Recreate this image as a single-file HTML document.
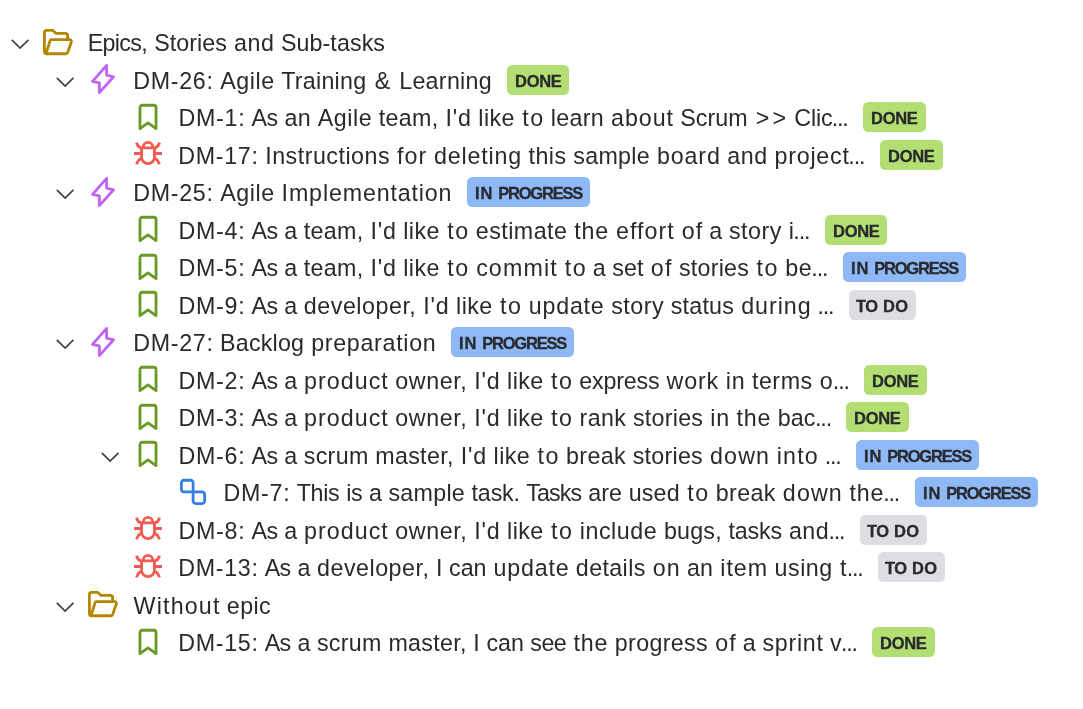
<!DOCTYPE html>
<html lang="en">
<head>
<meta charset="utf-8">
<title>Epics, Stories and Sub-tasks</title>
<style>
html,body{margin:0;padding:0;background:#fff;}
body{width:1083px;height:709px;position:relative;overflow:hidden;font-family:"Liberation Sans",sans-serif;color:#292a2e;}
#g{position:absolute;left:0;top:0;width:1083px;height:709px;}
.i{fill:none;stroke-width:2.8;stroke-linejoin:round;stroke-linecap:round;}
.c{fill:none;stroke:#42444b;stroke-width:1.8;stroke-linejoin:miter;stroke-linecap:butt;}
.folder{stroke:#b38600;}
.epic{stroke:#bf63f3;}
.story{stroke:#6a9a23;}
.bug{stroke:#f15b50;stroke-linecap:butt;}
.task{stroke:#357de8;}
.done{fill:#b3df72;}
.prog{fill:#8fb8f6;}
.todo{fill:#dddee1;}
.t{position:absolute;will-change:transform;height:38px;line-height:38px;font-size:23.25px;white-space:pre;}
.e{letter-spacing:-1.13px;}
.b{position:absolute;will-change:transform;height:30px;line-height:30px;font-size:16.5px;font-weight:700;white-space:pre;-webkit-text-stroke:0.3px #292a2e;}
</style>
</head>
<body>
<svg id="g" width="1083" height="709" viewBox="0 0 1083 709">
<path class="c" transform="translate(20.12 42)" d="M-8.3 -2.1L0 6.1L8.3 -2.1"/>
<g class="i folder" transform="translate(58 42)"><path d="M9.6 -2.45V-6.45a2.2 2.2 0 0 0 -2.2 -2.2H-2L-5.4 -11.72H-11.38a2.2 2.2 0 0 0 -2.2 2.2V9.53a2.2 2.2 0 0 0 2.2 2.2H8.1a1.6 1.6 0 0 0 1.5 -1.1L13.4 -0.2a1.8 1.8 0 0 0 -1.7 -2.25H-6.5a1.5 1.5 0 0 0 -1.45 1.1L-11.7 10.9"/></g>
<path class="c" transform="translate(65.12 80)" d="M-8.3 -2.1L0 6.1L8.3 -2.1"/>
<g class="i epic" transform="translate(103 79)"><path d="M3.6 -13.6L-10.5 2.4L-3.65 3.8V13.6L10.6 -2.2L3.6 -3.8Z"/></g>
<rect class="done" x="507" y="65" width="62" height="30" rx="5.5"/>
<g class="i story" transform="translate(148 117)"><path d="M-8.03 11.7V-9.55a2.2 2.2 0 0 1 2.2 -2.2H5.83a2.2 2.2 0 0 1 2.2 2.2V11.7L0 5.9Z"/></g>
<rect class="done" x="863" y="102" width="63" height="30" rx="5.5"/>
<g class="i bug" transform="translate(148 154)"><g transform="translate(0 0.5)"><path d="M-6.4 -6.7H6.4V2.8a6.4 6.4 0 0 1 -12.8 0Z"/><path d="M-4.7 -6.7v-0.8a4.7 4.7 0 0 1 9.4 0v0.8"/><path d="M-14 -1H-6.4M6.4 -1H14"/><path d="M-11.5 -11.9c0.6 2.6 2 4.6 4.7 5.5M11.5 -11.9c-0.6 2.6 -2 4.6 -4.7 5.5"/><path d="M-11.5 9.9c0.8 -2.6 2 -4.7 4.4 -6.2M11.5 9.9c-0.8 -2.6 -2 -4.7 -4.4 -6.2"/></g></g>
<rect class="done" x="880" y="140" width="63" height="30" rx="5.5"/>
<path class="c" transform="translate(65.12 192)" d="M-8.3 -2.1L0 6.1L8.3 -2.1"/>
<g class="i epic" transform="translate(103 192)"><path d="M3.6 -13.6L-10.5 2.4L-3.65 3.8V13.6L10.6 -2.2L3.6 -3.8Z"/></g>
<rect class="prog" x="467" y="177" width="123" height="30" rx="5.5"/>
<g class="i story" transform="translate(148 229)"><path d="M-8.03 11.7V-9.55a2.2 2.2 0 0 1 2.2 -2.2H5.83a2.2 2.2 0 0 1 2.2 2.2V11.7L0 5.9Z"/></g>
<rect class="done" x="825" y="215" width="62" height="30" rx="5.5"/>
<g class="i story" transform="translate(148 267)"><path d="M-8.03 11.7V-9.55a2.2 2.2 0 0 1 2.2 -2.2H5.83a2.2 2.2 0 0 1 2.2 2.2V11.7L0 5.9Z"/></g>
<rect class="prog" x="843" y="252" width="123" height="30" rx="5.5"/>
<g class="i story" transform="translate(148 304)"><path d="M-8.03 11.7V-9.55a2.2 2.2 0 0 1 2.2 -2.2H5.83a2.2 2.2 0 0 1 2.2 2.2V11.7L0 5.9Z"/></g>
<rect class="todo" x="849" y="290" width="67" height="30" rx="5.5"/>
<path class="c" transform="translate(65.12 342)" d="M-8.3 -2.1L0 6.1L8.3 -2.1"/>
<g class="i epic" transform="translate(103 342)"><path d="M3.6 -13.6L-10.5 2.4L-3.65 3.8V13.6L10.6 -2.2L3.6 -3.8Z"/></g>
<rect class="prog" x="451" y="327" width="123" height="30" rx="5.5"/>
<g class="i story" transform="translate(148 379)"><path d="M-8.03 11.7V-9.55a2.2 2.2 0 0 1 2.2 -2.2H5.83a2.2 2.2 0 0 1 2.2 2.2V11.7L0 5.9Z"/></g>
<rect class="done" x="864" y="365" width="63" height="30" rx="5.5"/>
<g class="i story" transform="translate(148 417)"><path d="M-8.03 11.7V-9.55a2.2 2.2 0 0 1 2.2 -2.2H5.83a2.2 2.2 0 0 1 2.2 2.2V11.7L0 5.9Z"/></g>
<rect class="done" x="846" y="402" width="63" height="30" rx="5.5"/>
<path class="c" transform="translate(110.12 455)" d="M-8.3 -2.1L0 6.1L8.3 -2.1"/>
<g class="i story" transform="translate(148 454)"><path d="M-8.03 11.7V-9.55a2.2 2.2 0 0 1 2.2 -2.2H5.83a2.2 2.2 0 0 1 2.2 2.2V11.7L0 5.9Z"/></g>
<rect class="prog" x="856" y="440" width="123" height="30" rx="5.5"/>
<g class="i task" transform="translate(193 492)"><path d="M0.1 -0.1H-9.1a2.5 2.5 0 0 1 -2.5 -2.5V-9.25a2.5 2.5 0 0 1 2.5 -2.5H-2.4a2.5 2.5 0 0 1 2.5 2.5V9.05a2.5 2.5 0 0 0 2.5 2.5H9.15a2.5 2.5 0 0 0 2.5 -2.5V2.4a2.5 2.5 0 0 0 -2.5 -2.5Z"/></g>
<rect class="prog" x="915" y="477" width="123" height="30" rx="5.5"/>
<g class="i bug" transform="translate(148 529)"><g transform="translate(0 0.5)"><path d="M-6.4 -6.7H6.4V2.8a6.4 6.4 0 0 1 -12.8 0Z"/><path d="M-4.7 -6.7v-0.8a4.7 4.7 0 0 1 9.4 0v0.8"/><path d="M-14 -1H-6.4M6.4 -1H14"/><path d="M-11.5 -11.9c0.6 2.6 2 4.6 4.7 5.5M11.5 -11.9c-0.6 2.6 -2 4.6 -4.7 5.5"/><path d="M-11.5 9.9c0.8 -2.6 2 -4.7 4.4 -6.2M11.5 9.9c-0.8 -2.6 -2 -4.7 -4.4 -6.2"/></g></g>
<rect class="todo" x="860" y="515" width="67" height="30" rx="5.5"/>
<g class="i bug" transform="translate(148 567)"><g transform="translate(0 0.5)"><path d="M-6.4 -6.7H6.4V2.8a6.4 6.4 0 0 1 -12.8 0Z"/><path d="M-4.7 -6.7v-0.8a4.7 4.7 0 0 1 9.4 0v0.8"/><path d="M-14 -1H-6.4M6.4 -1H14"/><path d="M-11.5 -11.9c0.6 2.6 2 4.6 4.7 5.5M11.5 -11.9c-0.6 2.6 -2 4.6 -4.7 5.5"/><path d="M-11.5 9.9c0.8 -2.6 2 -4.7 4.4 -6.2M11.5 9.9c-0.8 -2.6 -2 -4.7 -4.4 -6.2"/></g></g>
<rect class="todo" x="878" y="552" width="67" height="30" rx="5.5"/>
<path class="c" transform="translate(65.12 605)" d="M-8.3 -2.1L0 6.1L8.3 -2.1"/>
<g class="i folder" transform="translate(103 604)"><path d="M9.6 -2.45V-6.45a2.2 2.2 0 0 0 -2.2 -2.2H-2L-5.4 -11.72H-11.38a2.2 2.2 0 0 0 -2.2 2.2V9.53a2.2 2.2 0 0 0 2.2 2.2H8.1a1.6 1.6 0 0 0 1.5 -1.1L13.4 -0.2a1.8 1.8 0 0 0 -1.7 -2.25H-6.5a1.5 1.5 0 0 0 -1.45 1.1L-11.7 10.9"/></g>
<g class="i story" transform="translate(148 642)"><path d="M-8.03 11.7V-9.55a2.2 2.2 0 0 1 2.2 -2.2H5.83a2.2 2.2 0 0 1 2.2 2.2V11.7L0 5.9Z"/></g>
<rect class="done" x="872" y="627" width="63" height="30" rx="5.5"/>
</svg>
<div class="t" style="left:87.75px;top:24px"><span style="letter-spacing:-0.652px;word-spacing:0.872px;margin:0 0.326px 0 -0.326px">Epics, </span><span style="letter-spacing:0.075px;word-spacing:0.144px;margin:0 -0.0375px 0 0.0375px">Stories </span><span style="letter-spacing:0.568px;word-spacing:-0.364px;margin:0 -0.284px 0 0.284px">and </span><span style="letter-spacing:0.091px;word-spacing:0px;margin:0 -0.0455px 0 0.0455px">Sub-tasks</span></div>
<div class="t" style="left:132.95px;top:62px"><span style="letter-spacing:0.67px;word-spacing:-0.45px;margin:0 -0.335px 0 0.335px">DM-26: </span><span style="letter-spacing:0.576px;word-spacing:-0.372px;margin:0 -0.288px 0 0.288px">Agile </span><span style="letter-spacing:0.238px;word-spacing:-0.034px;margin:0 -0.119px 0 0.119px">Training </span><span style="letter-spacing:3.968px;word-spacing:-3.748px;margin:0 -1.98px 0 1.98px">&amp; </span><span style="letter-spacing:0.295px;word-spacing:0px;margin:0 -0.147px 0 0.147px">Learning</span></div>
<div class="b" style="left:515.10px;top:66px"><span style="letter-spacing:-0.274px">DONE</span></div>
<div class="t" style="left:177.95px;top:99px"><span style="letter-spacing:0.765px;word-spacing:-0.545px;margin:0 -0.383px 0 0.383px">DM-1: </span><span style="letter-spacing:-0.546px;word-spacing:0.766px;margin:0 0.273px 0 -0.273px">As </span><span style="letter-spacing:0.152px;word-spacing:0.067px;margin:0 -0.076px 0 0.076px">an </span><span style="letter-spacing:0.576px;word-spacing:-0.372px;margin:0 -0.288px 0 0.288px">Agile </span><span style="letter-spacing:0.301px;word-spacing:-0.082px;margin:0 -0.15px 0 0.15px">team, </span><span style="letter-spacing:0.858px;word-spacing:-0.638px;margin:0 -0.429px 0 0.429px">I'd </span><span style="letter-spacing:0.442px;word-spacing:-0.238px;margin:0 -0.221px 0 0.221px">like </span><span style="letter-spacing:1.569px;word-spacing:-1.365px;margin:0 -0.784px 0 0.784px">to </span><span style="letter-spacing:0.317px;word-spacing:-0.113px;margin:0 -0.159px 0 0.159px">learn </span><span style="letter-spacing:0.968px;word-spacing:-0.764px;margin:0 -0.484px 0 0.484px">about </span><span style="letter-spacing:0.044px;word-spacing:0.176px;margin:0 -0.022px 0 0.022px">Scrum </span><span style="letter-spacing:3.086px;word-spacing:-2.882px;margin:0 -1.54px 0 1.54px">&gt;&gt; </span><span style="letter-spacing:-0.154px;word-spacing:0px;margin:0 0.077px 0 -0.077px">Clic</span><span class="e" style="margin-left:-0.81px">...</span></div>
<div class="b" style="left:871.10px;top:103px"><span style="letter-spacing:-0.274px">DONE</span></div>
<div class="t" style="left:177.95px;top:137px"><span style="letter-spacing:0.67px;word-spacing:-0.45px;margin:0 -0.335px 0 0.335px">DM-17: </span><span style="letter-spacing:0.501px;word-spacing:-0.281px;margin:0 -0.251px 0 0.251px">Instructions </span><span style="letter-spacing:1.071px;word-spacing:-0.852px;margin:0 -0.535px 0 0.535px">for </span><span style="letter-spacing:0.816px;word-spacing:-0.597px;margin:0 -0.408px 0 0.408px">deleting </span><span style="letter-spacing:0.522px;word-spacing:-0.303px;margin:0 -0.261px 0 0.261px">this </span><span style="letter-spacing:0.288px;word-spacing:-0.084px;margin:0 -0.144px 0 0.144px">sample </span><span style="letter-spacing:0.86px;word-spacing:-0.655px;margin:0 -0.43px 0 0.43px">board </span><span style="letter-spacing:0.568px;word-spacing:-0.364px;margin:0 -0.284px 0 0.284px">and </span><span style="letter-spacing:0.773px;word-spacing:0px;margin:0 -0.387px 0 0.387px">project</span><span class="e" style="margin-left:-0.97px">...</span></div>
<div class="b" style="left:888.10px;top:141px"><span style="letter-spacing:-0.274px">DONE</span></div>
<div class="t" style="left:132.95px;top:174px"><span style="letter-spacing:0.67px;word-spacing:-0.45px;margin:0 -0.335px 0 0.335px">DM-25: </span><span style="letter-spacing:0.576px;word-spacing:-0.372px;margin:0 -0.288px 0 0.288px">Agile </span><span style="letter-spacing:0.846px;word-spacing:0px;margin:0 -0.423px 0 0.423px">Implementation</span></div>
<div class="b" style="left:474.55px;top:178px"><span style="letter-spacing:1.000px;word-spacing:-0.942px">IN </span><span style="letter-spacing:-1.196px">PROGRESS</span></div>
<div class="t" style="left:177.95px;top:212px"><span style="letter-spacing:0.765px;word-spacing:-0.545px;margin:0 -0.383px 0 0.383px">DM-4: </span><span style="letter-spacing:-0.546px;word-spacing:0.766px;margin:0 0.273px 0 -0.273px">As </span><span style="letter-spacing:-0.543px;word-spacing:0.763px;margin:0 0.272px 0 -0.272px">a </span><span style="letter-spacing:0.301px;word-spacing:-0.082px;margin:0 -0.15px 0 0.15px">team, </span><span style="letter-spacing:0.858px;word-spacing:-0.638px;margin:0 -0.429px 0 0.429px">I'd </span><span style="letter-spacing:0.442px;word-spacing:-0.238px;margin:0 -0.221px 0 0.221px">like </span><span style="letter-spacing:1.569px;word-spacing:-1.365px;margin:0 -0.784px 0 0.784px">to </span><span style="letter-spacing:0.469px;word-spacing:-0.264px;margin:0 -0.234px 0 0.234px">estimate </span><span style="letter-spacing:0.821px;word-spacing:-0.601px;margin:0 -0.41px 0 0.41px">the </span><span style="letter-spacing:1.07px;word-spacing:-0.866px;margin:0 -0.535px 0 0.535px">effort </span><span style="letter-spacing:1.254px;word-spacing:-1.05px;margin:0 -0.627px 0 0.627px">of </span><span style="letter-spacing:-0.543px;word-spacing:0.763px;margin:0 0.272px 0 -0.272px">a </span><span style="letter-spacing:0.537px;word-spacing:-0.317px;margin:0 -0.269px 0 0.269px">story </span><span style="letter-spacing:0.728px;word-spacing:0px;margin:0 -0.364px 0 0.364px">i</span><span class="e" style="margin-left:-0.99px">...</span></div>
<div class="b" style="left:833.10px;top:216px"><span style="letter-spacing:-0.274px">DONE</span></div>
<div class="t" style="left:177.95px;top:249px"><span style="letter-spacing:0.765px;word-spacing:-0.545px;margin:0 -0.383px 0 0.383px">DM-5: </span><span style="letter-spacing:-0.546px;word-spacing:0.766px;margin:0 0.273px 0 -0.273px">As </span><span style="letter-spacing:-0.543px;word-spacing:0.763px;margin:0 0.272px 0 -0.272px">a </span><span style="letter-spacing:0.301px;word-spacing:-0.082px;margin:0 -0.15px 0 0.15px">team, </span><span style="letter-spacing:0.858px;word-spacing:-0.638px;margin:0 -0.429px 0 0.429px">I'd </span><span style="letter-spacing:0.442px;word-spacing:-0.238px;margin:0 -0.221px 0 0.221px">like </span><span style="letter-spacing:1.569px;word-spacing:-1.365px;margin:0 -0.784px 0 0.784px">to </span><span style="letter-spacing:1.12px;word-spacing:-0.901px;margin:0 -0.56px 0 0.56px">commit </span><span style="letter-spacing:1.569px;word-spacing:-1.365px;margin:0 -0.784px 0 0.784px">to </span><span style="letter-spacing:-0.543px;word-spacing:0.763px;margin:0 0.272px 0 -0.272px">a </span><span style="letter-spacing:0.109px;word-spacing:0.095px;margin:0 -0.0545px 0 0.0545px">set </span><span style="letter-spacing:1.254px;word-spacing:-1.05px;margin:0 -0.627px 0 0.627px">of </span><span style="letter-spacing:0.261px;word-spacing:-0.057px;margin:0 -0.131px 0 0.131px">stories </span><span style="letter-spacing:1.569px;word-spacing:-1.365px;margin:0 -0.784px 0 0.784px">to </span><span style="letter-spacing:0.598px;word-spacing:0px;margin:0 -0.299px 0 0.299px">be</span><span class="e" style="margin-left:-0.72px">...</span></div>
<div class="b" style="left:850.55px;top:253px"><span style="letter-spacing:1.000px;word-spacing:-0.942px">IN </span><span style="letter-spacing:-1.196px">PROGRESS</span></div>
<div class="t" style="left:177.95px;top:287px"><span style="letter-spacing:0.765px;word-spacing:-0.545px;margin:0 -0.383px 0 0.383px">DM-9: </span><span style="letter-spacing:-0.546px;word-spacing:0.766px;margin:0 0.273px 0 -0.273px">As </span><span style="letter-spacing:-0.543px;word-spacing:0.763px;margin:0 0.272px 0 -0.272px">a </span><span style="letter-spacing:0.518px;word-spacing:-0.314px;margin:0 -0.259px 0 0.259px">developer, </span><span style="letter-spacing:0.858px;word-spacing:-0.638px;margin:0 -0.429px 0 0.429px">I'd </span><span style="letter-spacing:0.442px;word-spacing:-0.238px;margin:0 -0.221px 0 0.221px">like </span><span style="letter-spacing:1.569px;word-spacing:-1.365px;margin:0 -0.784px 0 0.784px">to </span><span style="letter-spacing:0.784px;word-spacing:-0.564px;margin:0 -0.392px 0 0.392px">update </span><span style="letter-spacing:0.537px;word-spacing:-0.317px;margin:0 -0.269px 0 0.269px">story </span><span style="letter-spacing:0.222px;word-spacing:-0.018px;margin:0 -0.111px 0 0.111px">status </span><span style="letter-spacing:0.988px;word-spacing:-0.769px;margin:0 -0.494px 0 0.494px">during </span><span class="e" style="margin-left:-0.53px">...</span></div>
<div class="b" style="left:855.91px;top:291px"><span style="letter-spacing:-0.435px;word-spacing:0.989px">TO </span><span style="letter-spacing:0.447px">DO</span></div>
<div class="t" style="left:132.95px;top:324px"><span style="letter-spacing:0.67px;word-spacing:-0.45px;margin:0 -0.335px 0 0.335px">DM-27: </span><span style="letter-spacing:0.214px;word-spacing:-0.009px;margin:0 -0.107px 0 0.107px">Backlog </span><span style="letter-spacing:0.699px;word-spacing:0px;margin:0 -0.349px 0 0.349px">preparation</span></div>
<div class="b" style="left:458.55px;top:328px"><span style="letter-spacing:1.000px;word-spacing:-0.942px">IN </span><span style="letter-spacing:-1.196px">PROGRESS</span></div>
<div class="t" style="left:177.95px;top:362px"><span style="letter-spacing:0.765px;word-spacing:-0.545px;margin:0 -0.383px 0 0.383px">DM-2: </span><span style="letter-spacing:-0.546px;word-spacing:0.766px;margin:0 0.273px 0 -0.273px">As </span><span style="letter-spacing:-0.543px;word-spacing:0.763px;margin:0 0.272px 0 -0.272px">a </span><span style="letter-spacing:1.015px;word-spacing:-0.795px;margin:0 -0.507px 0 0.507px">product </span><span style="letter-spacing:0.604px;word-spacing:-0.384px;margin:0 -0.302px 0 0.302px">owner, </span><span style="letter-spacing:0.858px;word-spacing:-0.638px;margin:0 -0.429px 0 0.429px">I'd </span><span style="letter-spacing:0.442px;word-spacing:-0.238px;margin:0 -0.221px 0 0.221px">like </span><span style="letter-spacing:1.569px;word-spacing:-1.365px;margin:0 -0.784px 0 0.784px">to </span><span style="letter-spacing:-0.184px;word-spacing:0.404px;margin:0 0.092px 0 -0.092px">express </span><span style="letter-spacing:0.834px;word-spacing:-0.63px;margin:0 -0.417px 0 0.417px">work </span><span style="letter-spacing:0.788px;word-spacing:-0.568px;margin:0 -0.394px 0 0.394px">in </span><span style="letter-spacing:0.531px;word-spacing:-0.327px;margin:0 -0.266px 0 0.266px">terms </span><span style="letter-spacing:1.336px;word-spacing:0px;margin:0 -0.668px 0 0.668px">o</span><span class="e" style="margin-left:-0.6px">...</span></div>
<div class="b" style="left:872.10px;top:366px"><span style="letter-spacing:-0.274px">DONE</span></div>
<div class="t" style="left:177.95px;top:399px"><span style="letter-spacing:0.765px;word-spacing:-0.545px;margin:0 -0.383px 0 0.383px">DM-3: </span><span style="letter-spacing:-0.546px;word-spacing:0.766px;margin:0 0.273px 0 -0.273px">As </span><span style="letter-spacing:-0.543px;word-spacing:0.763px;margin:0 0.272px 0 -0.272px">a </span><span style="letter-spacing:1.015px;word-spacing:-0.795px;margin:0 -0.507px 0 0.507px">product </span><span style="letter-spacing:0.604px;word-spacing:-0.384px;margin:0 -0.302px 0 0.302px">owner, </span><span style="letter-spacing:0.858px;word-spacing:-0.638px;margin:0 -0.429px 0 0.429px">I'd </span><span style="letter-spacing:0.442px;word-spacing:-0.238px;margin:0 -0.221px 0 0.221px">like </span><span style="letter-spacing:1.569px;word-spacing:-1.365px;margin:0 -0.784px 0 0.784px">to </span><span style="letter-spacing:0.378px;word-spacing:-0.174px;margin:0 -0.189px 0 0.189px">rank </span><span style="letter-spacing:0.261px;word-spacing:-0.057px;margin:0 -0.131px 0 0.131px">stories </span><span style="letter-spacing:0.788px;word-spacing:-0.568px;margin:0 -0.394px 0 0.394px">in </span><span style="letter-spacing:0.821px;word-spacing:-0.601px;margin:0 -0.41px 0 0.41px">the </span><span style="letter-spacing:0.156px;word-spacing:0px;margin:0 -0.078px 0 0.078px">bac</span><span class="e" style="margin-left:-0.6px">...</span></div>
<div class="b" style="left:854.10px;top:403px"><span style="letter-spacing:-0.274px">DONE</span></div>
<div class="t" style="left:177.95px;top:437px"><span style="letter-spacing:0.765px;word-spacing:-0.545px;margin:0 -0.383px 0 0.383px">DM-6: </span><span style="letter-spacing:-0.546px;word-spacing:0.766px;margin:0 0.273px 0 -0.273px">As </span><span style="letter-spacing:-0.543px;word-spacing:0.763px;margin:0 0.272px 0 -0.272px">a </span><span style="letter-spacing:0.303px;word-spacing:-0.084px;margin:0 -0.151px 0 0.151px">scrum </span><span style="letter-spacing:0.317px;word-spacing:-0.113px;margin:0 -0.159px 0 0.159px">master, </span><span style="letter-spacing:0.858px;word-spacing:-0.638px;margin:0 -0.429px 0 0.429px">I'd </span><span style="letter-spacing:0.442px;word-spacing:-0.238px;margin:0 -0.221px 0 0.221px">like </span><span style="letter-spacing:1.569px;word-spacing:-1.365px;margin:0 -0.784px 0 0.784px">to </span><span style="letter-spacing:0.372px;word-spacing:-0.152px;margin:0 -0.186px 0 0.186px">break </span><span style="letter-spacing:0.261px;word-spacing:-0.057px;margin:0 -0.131px 0 0.131px">stories </span><span style="letter-spacing:1.095px;word-spacing:-0.875px;margin:0 -0.547px 0 0.547px">down </span><span style="letter-spacing:1.178px;word-spacing:-0.959px;margin:0 -0.589px 0 0.589px">into </span><span class="e" style="margin-left:-0.39px">...</span></div>
<div class="b" style="left:863.55px;top:441px"><span style="letter-spacing:1.000px;word-spacing:-0.942px">IN </span><span style="letter-spacing:-1.196px">PROGRESS</span></div>
<div class="t" style="left:222.95px;top:474px"><span style="letter-spacing:0.765px;word-spacing:-0.545px;margin:0 -0.383px 0 0.383px">DM-7: </span><span style="letter-spacing:-0.288px;word-spacing:0.508px;margin:0 0.144px 0 -0.144px">This </span><span style="letter-spacing:-0.28px;word-spacing:0.5px;margin:0 0.14px 0 -0.14px">is </span><span style="letter-spacing:-0.543px;word-spacing:0.763px;margin:0 0.272px 0 -0.272px">a </span><span style="letter-spacing:0.288px;word-spacing:-0.084px;margin:0 -0.144px 0 0.144px">sample </span><span style="letter-spacing:-0.147px;word-spacing:0.367px;margin:0 0.0735px 0 -0.0735px">task. </span><span style="letter-spacing:-0.895px;word-spacing:1.114px;margin:0 0.448px 0 -0.448px">Tasks </span><span style="letter-spacing:-0.002px;word-spacing:0.207px;margin:0 0.001px 0 -0.001px">are </span><span style="letter-spacing:0.193px;word-spacing:0.011px;margin:0 -0.0965px 0 0.0965px">used </span><span style="letter-spacing:1.569px;word-spacing:-1.365px;margin:0 -0.784px 0 0.784px">to </span><span style="letter-spacing:0.372px;word-spacing:-0.152px;margin:0 -0.186px 0 0.186px">break </span><span style="letter-spacing:1.095px;word-spacing:-0.875px;margin:0 -0.547px 0 0.547px">down </span><span style="letter-spacing:0.821px;word-spacing:0px;margin:0 -0.41px 0 0.41px">the</span><span class="e" style="margin-left:-0.6px">...</span></div>
<div class="b" style="left:922.55px;top:478px"><span style="letter-spacing:1.000px;word-spacing:-0.942px">IN </span><span style="letter-spacing:-1.196px">PROGRESS</span></div>
<div class="t" style="left:177.95px;top:512px"><span style="letter-spacing:0.765px;word-spacing:-0.545px;margin:0 -0.383px 0 0.383px">DM-8: </span><span style="letter-spacing:-0.546px;word-spacing:0.766px;margin:0 0.273px 0 -0.273px">As </span><span style="letter-spacing:-0.543px;word-spacing:0.763px;margin:0 0.272px 0 -0.272px">a </span><span style="letter-spacing:1.015px;word-spacing:-0.795px;margin:0 -0.507px 0 0.507px">product </span><span style="letter-spacing:0.604px;word-spacing:-0.384px;margin:0 -0.302px 0 0.302px">owner, </span><span style="letter-spacing:0.858px;word-spacing:-0.638px;margin:0 -0.429px 0 0.429px">I'd </span><span style="letter-spacing:0.442px;word-spacing:-0.238px;margin:0 -0.221px 0 0.221px">like </span><span style="letter-spacing:1.569px;word-spacing:-1.365px;margin:0 -0.784px 0 0.784px">to </span><span style="letter-spacing:0.573px;word-spacing:-0.353px;margin:0 -0.286px 0 0.286px">include </span><span style="letter-spacing:0.231px;word-spacing:-0.011px;margin:0 -0.116px 0 0.116px">bugs, </span><span style="letter-spacing:-0.167px;word-spacing:0.371px;margin:0 0.0835px 0 -0.0835px">tasks </span><span style="letter-spacing:0.568px;word-spacing:0px;margin:0 -0.284px 0 0.284px">and</span><span class="e" style="margin-left:-0.7px">...</span></div>
<div class="b" style="left:866.91px;top:516px"><span style="letter-spacing:-0.435px;word-spacing:0.989px">TO </span><span style="letter-spacing:0.447px">DO</span></div>
<div class="t" style="left:177.95px;top:549px"><span style="letter-spacing:0.67px;word-spacing:-0.45px;margin:0 -0.335px 0 0.335px">DM-13: </span><span style="letter-spacing:-0.546px;word-spacing:0.766px;margin:0 0.273px 0 -0.273px">As </span><span style="letter-spacing:-0.543px;word-spacing:0.763px;margin:0 0.272px 0 -0.272px">a </span><span style="letter-spacing:0.518px;word-spacing:-0.314px;margin:0 -0.259px 0 0.259px">developer, </span><span style="letter-spacing:0.014px;word-spacing:0.206px;margin:0 -0.007px 0 0.007px">I </span><span style="letter-spacing:-0.023px;word-spacing:0.242px;margin:0 0.0115px 0 -0.0115px">can </span><span style="letter-spacing:0.784px;word-spacing:-0.564px;margin:0 -0.392px 0 0.392px">update </span><span style="letter-spacing:0.377px;word-spacing:-0.157px;margin:0 -0.189px 0 0.189px">details </span><span style="letter-spacing:1.092px;word-spacing:-0.872px;margin:0 -0.546px 0 0.546px">on </span><span style="letter-spacing:0.152px;word-spacing:0.067px;margin:0 -0.076px 0 0.076px">an </span><span style="letter-spacing:0.987px;word-spacing:-0.768px;margin:0 -0.493px 0 0.493px">item </span><span style="letter-spacing:0.507px;word-spacing:-0.287px;margin:0 -0.254px 0 0.254px">using </span><span style="letter-spacing:1.786px;word-spacing:0px;margin:0 -0.893px 0 0.893px">t</span><span class="e" style="margin-left:-0.7px">...</span></div>
<div class="b" style="left:884.91px;top:553px"><span style="letter-spacing:-0.435px;word-spacing:0.989px">TO </span><span style="letter-spacing:0.447px">DO</span></div>
<div class="t" style="left:132.50px;top:587px"><span style="letter-spacing:1.165px;word-spacing:-0.946px;margin:0 -0.583px 0 0.583px">Without </span><span style="letter-spacing:0.392px;word-spacing:0px;margin:0 -0.196px 0 0.196px">epic</span></div>
<div class="t" style="left:177.95px;top:624px"><span style="letter-spacing:0.67px;word-spacing:-0.45px;margin:0 -0.335px 0 0.335px">DM-15: </span><span style="letter-spacing:-0.546px;word-spacing:0.766px;margin:0 0.273px 0 -0.273px">As </span><span style="letter-spacing:-0.543px;word-spacing:0.763px;margin:0 0.272px 0 -0.272px">a </span><span style="letter-spacing:0.303px;word-spacing:-0.084px;margin:0 -0.151px 0 0.151px">scrum </span><span style="letter-spacing:0.317px;word-spacing:-0.113px;margin:0 -0.159px 0 0.159px">master, </span><span style="letter-spacing:0.014px;word-spacing:0.206px;margin:0 -0.007px 0 0.007px">I </span><span style="letter-spacing:-0.023px;word-spacing:0.242px;margin:0 0.0115px 0 -0.0115px">can </span><span style="letter-spacing:-0.554px;word-spacing:0.774px;margin:0 0.277px 0 -0.277px">see </span><span style="letter-spacing:0.821px;word-spacing:-0.601px;margin:0 -0.41px 0 0.41px">the </span><span style="letter-spacing:0.348px;word-spacing:-0.128px;margin:0 -0.174px 0 0.174px">progress </span><span style="letter-spacing:1.254px;word-spacing:-1.05px;margin:0 -0.627px 0 0.627px">of </span><span style="letter-spacing:-0.543px;word-spacing:0.763px;margin:0 0.272px 0 -0.272px">a </span><span style="letter-spacing:0.699px;word-spacing:-0.495px;margin:0 -0.349px 0 0.349px">sprint </span><span style="letter-spacing:0.044px;word-spacing:0px;margin:0 -0.022px 0 0.022px">v</span><span class="e" style="margin-left:-0.67px">...</span></div>
<div class="b" style="left:880.10px;top:628px"><span style="letter-spacing:-0.274px">DONE</span></div>
</body>
</html>
